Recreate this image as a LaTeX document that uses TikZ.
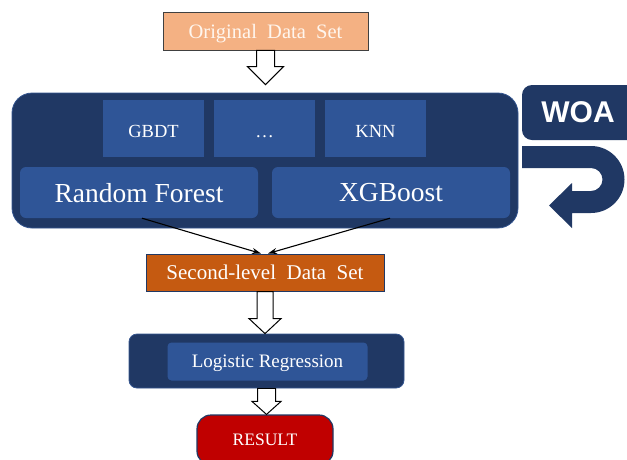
\documentclass[tikz,border=0pt]{standalone}
\usepackage{fontspec}
\setmainfont{Liberation Serif}
\newfontfamily\woafont{Liberation Sans}
\usetikzlibrary{arrows.meta,calc}

\definecolor{navy}{HTML}{203864}
\definecolor{midblue}{HTML}{2F5597}
\definecolor{edgeblue}{HTML}{34558F}
\definecolor{peach}{HTML}{F4B183}
\definecolor{rust}{HTML}{C55A11}
\definecolor{deepred}{HTML}{C00000}
\definecolor{cream}{HTML}{FFF6EE}

\tikzset{
  box/.style={rectangle, inner sep=0pt, align=center, text depth=0pt},
  navybox/.style={box, fill=navy, draw=edgeblue, line width=0.8pt},
  tile/.style={box, fill=midblue, text=white},
  smalltile/.style={tile, minimum width=101pt, minimum height=57pt, text height=17pt,
    font=\fontsize{18.5}{21}\selectfont},
  link/.style={draw=black, line width=1.1pt, -{Stealth[length=9pt,width=6pt]}},
  blockarr/.style={draw=black, line width=1pt, fill=white, line join=miter},
}

% hollow block arrow: #1 start, #2 tip, #3 half shaft width, #4 half head width, #5 head length
\newcommand{\hollowarr}[5]{%
  \path[blockarr] let \p1=(#1), \p2=(#2) in
    (\x1-#3,\y1) -- (\x1+#3,\y1) -- (\x1+#3,\y2+#5) -- (\x1+#4,\y2+#5) --
    (\x1,\y2) -- (\x1-#4,\y2+#5) -- (\x1-#3,\y2+#5) -- cycle;}

\begin{document}
\begin{tikzpicture}[x=1pt,y=-1pt]
  \clip (0,0) rectangle (627,459);
  \fill[white] (0,0) rectangle (627,459);

  % input data
  \node[box, fill=peach, draw=black!75, line width=0.9pt, text=cream,
        minimum width=205pt, minimum height=38pt,
        font=\fontsize{20.5}{24}\selectfont] (orig) at (265.5,31) {Original~ Data~ Set};

  % first-level learners
  \node[navybox, rounded corners=20pt, minimum width=506pt, minimum height=135pt] (ens) at (265,160.5) {};
  \node[smalltile] (gbdt) at (153.5,128.5) {GBDT};
  \node[smalltile] (dots) at (264.5,128.5) {\dots};
  \node[smalltile] (knn) at (375.5,128.5) {KNN};
  \node[tile, rounded corners=6pt, minimum width=238pt, minimum height=51pt,
        font=\fontsize{27.5}{32}\selectfont] (rf) at (139,192.5) {Random Forest};
  \node[tile, rounded corners=6pt, minimum width=238pt, minimum height=51pt,
        font=\fontsize{27.5}{32}\selectfont] (xgb) at (391,192.5) {XGBoost};

  % optimiser and its feedback arrow
  \node[box, fill=navy, rounded corners=10pt, minimum width=118pt, minimum height=55pt,
        text=white, font=\woafont\bfseries\fontsize{30}{34}\selectfont] (woa) at (581,112.5)
        {\hspace*{-3pt}WOA\hspace*{3pt}};
  \fill[navy] (522,146) -- (591,146) arc[start angle=-90, end angle=90, radius=33.5]
    -- (572,213) -- (572,228) -- (549,205.5) -- (572,183) -- (572,191) -- (591,191)
    arc[start angle=90, end angle=-90, radius=11.5] -- (522,168) -- cycle;

  % meta-level data
  \node[box, fill=rust, draw=navy, line width=1pt, text=white,
        minimum width=238pt, minimum height=37pt,
        font=\fontsize{21}{25}\selectfont] (sld) at (265,272.5) {Second-level~ Data~ Set};

  % meta learner
  \node[navybox, rounded corners=8pt, minimum width=275pt, minimum height=54pt] (lr) at (266.5,361) {};
  \node[tile, rounded corners=4pt, minimum width=200pt, minimum height=38pt,
        font=\fontsize{19}{22}\selectfont] (lri) at (267.5,361.5) {Logistic Regression};

  % output
  \node[box, fill=deepred, draw=navy, line width=1.2pt, rounded corners=14pt, text=white,
        minimum width=136pt, minimum height=50pt,
        font=\fontsize{17.5}{20}\selectfont] (res) at (265,440) {RESULT};

  % connectors
  \coordinate (t1) at ($(ens.north)+(0,-8)$);
  \hollowarr{orig.south}{t1}{9pt}{18pt}{18pt}
  \hollowarr{sld.south}{lr.north}{8pt}{16pt}{15pt}
  \hollowarr{lr.south}{res.north}{9pt}{14.5pt}{13pt}

  \draw[link] ($(rf.south)+(3,0)$) -- ($(sld.north)+(-4,0)$);
  \draw[link] ($(xgb.south)+(-1,0)$) -- ($(sld.north)+(3,0)$);
\end{tikzpicture}
\end{document}
